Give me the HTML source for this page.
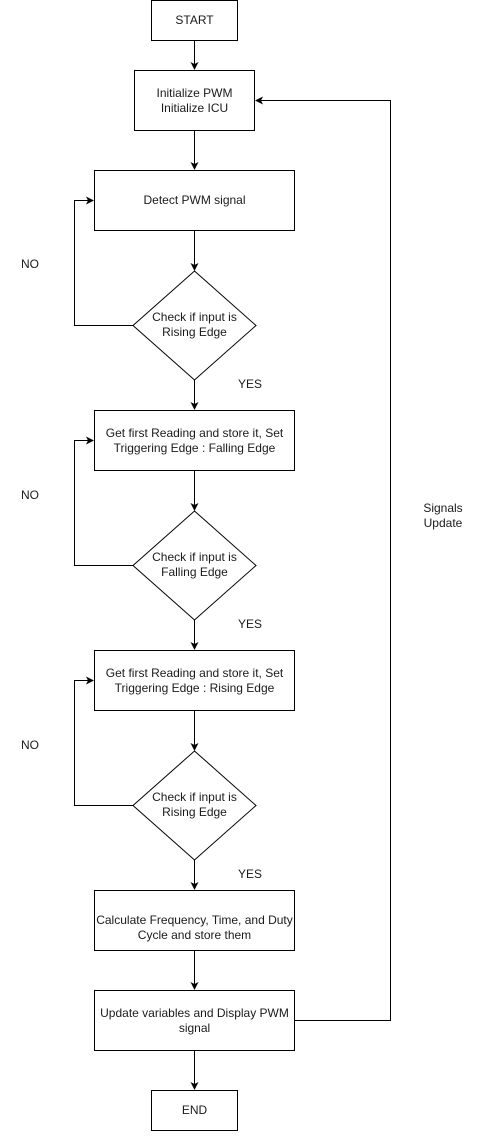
<!DOCTYPE html>
<html><head><meta charset="utf-8"><style>
html,body{margin:0;padding:0;background:#fff;}
svg text{font-family:"Liberation Sans",Arial,sans-serif;font-size:12px;fill:#1a1a1a;}
</style></head><body>
<svg width="480" height="1131" viewBox="0 0 480 1131" xmlns="http://www.w3.org/2000/svg">
<defs><marker id="a" markerWidth="8" markerHeight="8" refX="7" refY="4" orient="auto" markerUnits="userSpaceOnUse"><path d="M0,0 L8,4 L0,8 L2,4 z" fill="#000"/></marker></defs>
<g fill="#fff" stroke="#000" stroke-width="1">
<rect x="151.5" y="0.5" width="86" height="40"/>
<rect x="134.5" y="70.5" width="120" height="60"/>
<rect x="94.5" y="170.5" width="200" height="60"/>
<polygon points="194.5,271 256,325.5 194.5,380 133,325.5"/>
<rect x="94.5" y="410.5" width="200" height="60"/>
<polygon points="194.5,511 256,565.5 194.5,620 133,565.5"/>
<rect x="94.5" y="650.5" width="200" height="60"/>
<polygon points="194.5,751 256,805.5 194.5,860 133,805.5"/>
<rect x="94.5" y="890.5" width="200" height="60"/>
<rect x="94.5" y="990.5" width="200" height="60"/>
<rect x="151.5" y="1090.5" width="86" height="40"/>
</g>
<g fill="none" stroke="#000" stroke-width="1" marker-end="url(#a)">
<path d="M194.5,40.5 V69"/>
<path d="M194.5,130.5 V169"/>
<path d="M194.5,230.5 V270"/>
<path d="M194.5,380 V409"/>
<path d="M194.5,470.5 V510"/>
<path d="M194.5,620 V649"/>
<path d="M194.5,710.5 V750"/>
<path d="M194.5,860 V889"/>
<path d="M194.5,950.5 V989"/>
<path d="M194.5,1050.5 V1089"/>
<path d="M133,325.5 H74.5 V200.5 H93"/>
<path d="M133,565.5 H74.5 V440.5 H93"/>
<path d="M133,805.5 H74.5 V680.5 H93"/>
<path d="M294.5,1020.5 H390.5 V100.5 H256"/>
</g>
<g text-anchor="middle">
<text x="194.5" y="24">START</text>
<text x="194.5" y="97">Initialize PWM</text>
<text x="194.5" y="112">Initialize ICU</text>
<text x="194.5" y="204">Detect PWM signal</text>
<text x="194.5" y="321">Check if input is</text>
<text x="194.5" y="336">Rising Edge</text>
<text x="194.5" y="437">Get first Reading and store it, Set</text>
<text x="194.5" y="452">Triggering Edge : Falling Edge</text>
<text x="194.5" y="561">Check if input is</text>
<text x="194.5" y="576">Falling Edge</text>
<text x="194.5" y="677">Get first Reading and store it, Set</text>
<text x="194.5" y="692">Triggering Edge : Rising Edge</text>
<text x="194.5" y="801">Check if input is</text>
<text x="194.5" y="816">Rising Edge</text>
<text x="194.5" y="924">Calculate Frequency, Time, and Duty</text>
<text x="194.5" y="939">Cycle and store them</text>
<text x="194.5" y="1017">Update variables and Display PWM</text>
<text x="194.5" y="1032">signal</text>
<text x="194.5" y="1114">END</text>
<text x="443" y="512">Signals</text>
<text x="443" y="527">Update</text>
</g>
<text x="21" y="268">NO</text>
<text x="21" y="499">NO</text>
<text x="21" y="749">NO</text>
<text x="238" y="388">YES</text>
<text x="238" y="628">YES</text>
<text x="238" y="878">YES</text>
</svg>
</body></html>
